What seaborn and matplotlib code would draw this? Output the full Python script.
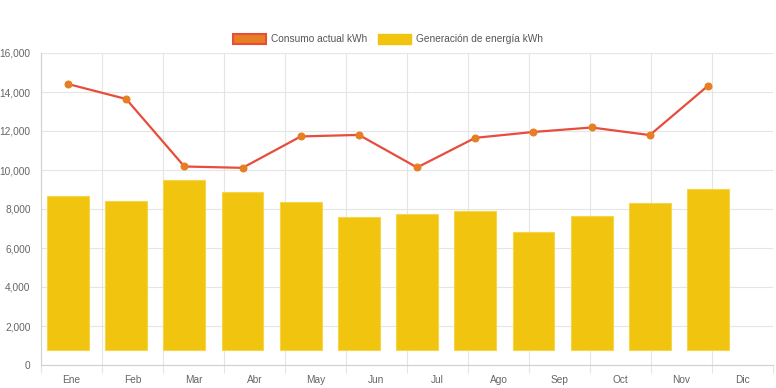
import matplotlib
matplotlib.use("Agg")
import matplotlib.pyplot as plt
from matplotlib.patches import Patch
from matplotlib.ticker import FuncFormatter, MultipleLocator
import seaborn as sns
import pandas as pd

# data
meses = ["Ene", "Feb", "Mar", "Abr", "May", "Jun", "Jul", "Ago", "Sep", "Oct", "Nov", "Dic"]
consumo = [14410, 13640, 10180, 10110, 11720, 11800, 10130, 11650, 11950, 12180, 11790, 14320]
generacion = [8690, 8430, 9480, 8860, 8370, 7580, 7740, 7880, 6840, 7660, 8300, 9020]
base_barras = 780

sns.set_theme(style="white")
plt.rcParams["font.family"] = ["Liberation Sans", "DejaVu Sans"]

rojo = "#e74c3c"
naranja = "#e67e22"
amarillo = "#f1c40f"
gris = "#666666"
rejilla = "#e5e5e5"
fs = 7.3

df = pd.DataFrame({
    "x": list(range(len(consumo))),
    "consumo": consumo,
    "alto": [g - base_barras for g in generacion],
})

fig = plt.figure(figsize=(7.76, 3.88), dpi=100)
ax = fig.add_axes([41 / 776, 1 - 365 / 388, 732 / 776, 312 / 388])

# category axis (labels between grid lines)
ax.set_xlim(0, 12)
ax.set_ylim(0, 16000)
ax.xaxis.set_major_locator(MultipleLocator(1))
ax.xaxis.set_major_formatter(FuncFormatter(lambda v, p: ""))
ax.set_xticks([i + 0.5 for i in range(12)], minor=True)
ax.set_xticklabels(meses, minor=True)
ax.yaxis.set_major_locator(MultipleLocator(2000))
ax.yaxis.set_major_formatter(FuncFormatter(lambda v, p: f"{int(v):,}"))
ax.grid(True, color=rejilla, linewidth=0.8)
ax.tick_params(axis="x", which="major", length=6, color=rejilla, width=0.8)
ax.tick_params(axis="x", which="minor", length=0, pad=7, labelsize=fs, labelcolor=gris)
ax.tick_params(axis="y", length=5, color=rejilla, width=0.8, pad=2.5, labelsize=fs, labelcolor=gris)
for s in ["top", "right"]:
    ax.spines[s].set_visible(False)
for s in ["left", "bottom"]:
    ax.spines[s].set_color("#d0d0d0")
    ax.spines[s].set_linewidth(0.8)

# data axis
ax2 = ax.twiny()
sns.barplot(data=df, x="x", y="alto", bottom=base_barras, color=amarillo, saturation=1,
            width=0.72, edgecolor="#f5d64a", linewidth=0.8, native_scale=True, ax=ax2)
sns.lineplot(data=df, x="x", y="consumo", color=rojo, linewidth=1.6, marker="o",
             markersize=5, markerfacecolor=naranja, markeredgecolor=naranja, ax=ax2, zorder=3)
ax2.set_xlim(-0.464, 12.117)
ax2.set_ylim(0, 16000)
ax2.axis("off")

handles = [Patch(facecolor=naranja, edgecolor=rojo, linewidth=1.5, label="Consumo actual kWh"),
           Patch(facecolor=amarillo, edgecolor=amarillo, label="Generación de energía kWh")]
fig.legend(handles=handles, loc="center", bbox_to_anchor=(0.5, 1 - 39 / 388), ncol=2,
           frameon=False, fontsize=fs, handlelength=3.3, handleheight=1.1, columnspacing=1.0,
           handletextpad=0.5, labelcolor="#555555")

fig.savefig("out.png", dpi=100)
